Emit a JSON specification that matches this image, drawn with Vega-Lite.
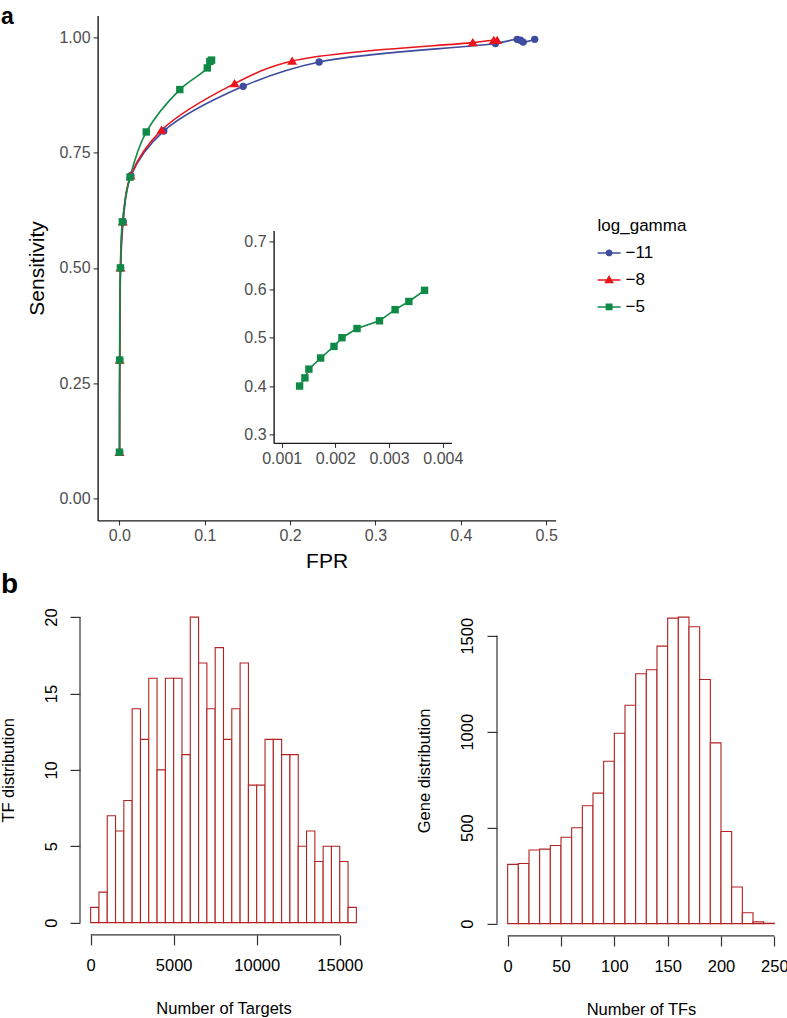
{
  "$schema": "https://vega.github.io/schema/vega-lite/v6.json",
  "padding": {"left": -1, "top": 6.4, "right": 0, "bottom": 0},
  "config": {
    "font": "Liberation Sans",
    "view": {"stroke": null},
    "axis": {"grid": false, "labelFlush": false, "labelOverlap": false}
  },
  "datasets": {
    "roc": [
      {"log_gamma": "−11", "fpr": 0.0003, "sens": 0.1},
      {"log_gamma": "−11", "fpr": 0.0005, "sens": 0.3},
      {"log_gamma": "−11", "fpr": 0.0015, "sens": 0.5},
      {"log_gamma": "−11", "fpr": 0.0045, "sens": 0.6},
      {"log_gamma": "−11", "fpr": 0.0135, "sens": 0.7},
      {"log_gamma": "−11", "fpr": 0.052, "sens": 0.797},
      {"log_gamma": "−11", "fpr": 0.145, "sens": 0.894},
      {"log_gamma": "−11", "fpr": 0.234, "sens": 0.947},
      {"log_gamma": "−11", "fpr": 0.4405, "sens": 0.987},
      {"log_gamma": "−11", "fpr": 0.466, "sens": 0.996},
      {"log_gamma": "−11", "fpr": 0.4698, "sens": 0.994},
      {"log_gamma": "−11", "fpr": 0.473, "sens": 0.99},
      {"log_gamma": "−11", "fpr": 0.4865, "sens": 0.996},
      {"log_gamma": "−8", "fpr": 0.0002, "sens": 0.1},
      {"log_gamma": "−8", "fpr": 0.0004, "sens": 0.3},
      {"log_gamma": "−8", "fpr": 0.0013, "sens": 0.5},
      {"log_gamma": "−8", "fpr": 0.004, "sens": 0.6},
      {"log_gamma": "−8", "fpr": 0.0131, "sens": 0.7},
      {"log_gamma": "−8", "fpr": 0.0494, "sens": 0.799},
      {"log_gamma": "−8", "fpr": 0.135, "sens": 0.9},
      {"log_gamma": "−8", "fpr": 0.2024, "sens": 0.949},
      {"log_gamma": "−8", "fpr": 0.414, "sens": 0.989},
      {"log_gamma": "−8", "fpr": 0.4386, "sens": 0.994},
      {"log_gamma": "−8", "fpr": 0.4425, "sens": 0.994},
      {"log_gamma": "−5", "fpr": 0.0001, "sens": 0.1},
      {"log_gamma": "−5", "fpr": 0.0003, "sens": 0.3},
      {"log_gamma": "−5", "fpr": 0.0012, "sens": 0.5},
      {"log_gamma": "−5", "fpr": 0.0035, "sens": 0.6},
      {"log_gamma": "−5", "fpr": 0.0125, "sens": 0.697},
      {"log_gamma": "−5", "fpr": 0.0315, "sens": 0.795},
      {"log_gamma": "−5", "fpr": 0.0708, "sens": 0.887},
      {"log_gamma": "−5", "fpr": 0.103, "sens": 0.934},
      {"log_gamma": "−5", "fpr": 0.106, "sens": 0.948},
      {"log_gamma": "−5", "fpr": 0.108, "sens": 0.951}
    ],
    "inset": [
      {"fpr": 0.001334, "sens": 0.4},
      {"fpr": 0.001433, "sens": 0.417},
      {"fpr": 0.001507, "sens": 0.435},
      {"fpr": 0.001726, "sens": 0.458},
      {"fpr": 0.001974, "sens": 0.482},
      {"fpr": 0.002123, "sens": 0.5},
      {"fpr": 0.002403, "sens": 0.519},
      {"fpr": 0.002821, "sens": 0.535},
      {"fpr": 0.003112, "sens": 0.558},
      {"fpr": 0.003368, "sens": 0.575},
      {"fpr": 0.00366, "sens": 0.598}
    ],
    "targets": [
      {"bin_start": 0, "bin_end": 500, "count": 1},
      {"bin_start": 500, "bin_end": 1000, "count": 2},
      {"bin_start": 1000, "bin_end": 1500, "count": 7},
      {"bin_start": 1500, "bin_end": 2000, "count": 6},
      {"bin_start": 2000, "bin_end": 2500, "count": 8},
      {"bin_start": 2500, "bin_end": 3000, "count": 14},
      {"bin_start": 3000, "bin_end": 3500, "count": 12},
      {"bin_start": 3500, "bin_end": 4000, "count": 16},
      {"bin_start": 4000, "bin_end": 4500, "count": 10},
      {"bin_start": 4500, "bin_end": 5000, "count": 16},
      {"bin_start": 5000, "bin_end": 5500, "count": 16},
      {"bin_start": 5500, "bin_end": 6000, "count": 11},
      {"bin_start": 6000, "bin_end": 6500, "count": 20},
      {"bin_start": 6500, "bin_end": 7000, "count": 17},
      {"bin_start": 7000, "bin_end": 7500, "count": 14},
      {"bin_start": 7500, "bin_end": 8000, "count": 18},
      {"bin_start": 8000, "bin_end": 8500, "count": 12},
      {"bin_start": 8500, "bin_end": 9000, "count": 14},
      {"bin_start": 9000, "bin_end": 9500, "count": 17},
      {"bin_start": 9500, "bin_end": 10000, "count": 9},
      {"bin_start": 10000, "bin_end": 10500, "count": 9},
      {"bin_start": 10500, "bin_end": 11000, "count": 12},
      {"bin_start": 11000, "bin_end": 11500, "count": 12},
      {"bin_start": 11500, "bin_end": 12000, "count": 11},
      {"bin_start": 12000, "bin_end": 12500, "count": 11},
      {"bin_start": 12500, "bin_end": 13000, "count": 5},
      {"bin_start": 13000, "bin_end": 13500, "count": 6},
      {"bin_start": 13500, "bin_end": 14000, "count": 4},
      {"bin_start": 14000, "bin_end": 14500, "count": 5},
      {"bin_start": 14500, "bin_end": 15000, "count": 5},
      {"bin_start": 15000, "bin_end": 15500, "count": 4},
      {"bin_start": 15500, "bin_end": 16000, "count": 1}
    ],
    "tfs": [
      {"bin_start": 0, "bin_end": 10, "count": 309},
      {"bin_start": 10, "bin_end": 20, "count": 313},
      {"bin_start": 20, "bin_end": 30, "count": 384},
      {"bin_start": 30, "bin_end": 40, "count": 388},
      {"bin_start": 40, "bin_end": 50, "count": 407},
      {"bin_start": 50, "bin_end": 60, "count": 450},
      {"bin_start": 60, "bin_end": 70, "count": 500},
      {"bin_start": 70, "bin_end": 80, "count": 614},
      {"bin_start": 80, "bin_end": 90, "count": 680},
      {"bin_start": 90, "bin_end": 100, "count": 846},
      {"bin_start": 100, "bin_end": 110, "count": 992},
      {"bin_start": 110, "bin_end": 120, "count": 1138},
      {"bin_start": 120, "bin_end": 130, "count": 1302},
      {"bin_start": 130, "bin_end": 140, "count": 1323},
      {"bin_start": 140, "bin_end": 150, "count": 1446},
      {"bin_start": 150, "bin_end": 160, "count": 1592},
      {"bin_start": 160, "bin_end": 170, "count": 1597},
      {"bin_start": 170, "bin_end": 180, "count": 1547},
      {"bin_start": 180, "bin_end": 190, "count": 1272},
      {"bin_start": 190, "bin_end": 200, "count": 942},
      {"bin_start": 200, "bin_end": 210, "count": 480},
      {"bin_start": 210, "bin_end": 220, "count": 191},
      {"bin_start": 220, "bin_end": 230, "count": 57},
      {"bin_start": 230, "bin_end": 240, "count": 9},
      {"bin_start": 240, "bin_end": 250, "count": 2}
    ]
  },
  "vconcat": [
    {
      "title": {"text": "a", "anchor": "start", "frame": "group", "fontSize": 23, "fontWeight": "bold", "color": "black", "font": "Liberation Sans", "dx": -79, "offset": -32, "baseline": "alphabetic"},
      "width": 476,
      "height": 505,
      "layer": [
        {
          "layer": [
            {
              "data": {"name": "roc"},
              "mark": {"type": "line", "interpolate": "catmull-rom", "strokeWidth": 1.6},
              "encoding": {
                "x": {"field": "fpr", "type": "quantitative",
                  "scale": {"domain": [-0.0255, 0.511], "range": [17.6, 475.6], "nice": false, "zero": false},
                  "axis": {"orient": "bottom", "values": [0, 0.1, 0.2, 0.3, 0.4, 0.5], "format": ".1f", "title": "FPR",
                    "domainColor": "#1a1a1a", "domainWidth": 1.4, "tickColor": "#333333", "tickSize": 4.5, "tickWidth": 1.1,
                    "labelColor": "#4d4d4d", "labelFontSize": 16, "labelPadding": 3,
                    "titleFontSize": 21, "titleFontWeight": "normal", "titleColor": "black", "titlePadding": 7}},
                "y": {"field": "sens", "type": "quantitative",
                  "scale": {"domain": [-0.048, 1.048], "nice": false, "zero": false},
                  "axis": {"orient": "left", "offset": -17.6, "values": [0, 0.25, 0.5, 0.75, 1], "format": ".2f", "title": "Sensitivity",
                    "domainColor": "#1a1a1a", "domainWidth": 1.4, "tickColor": "#333333", "tickSize": 4.5, "tickWidth": 1.1,
                    "labelColor": "#4d4d4d", "labelFontSize": 16, "labelPadding": 3,
                    "titleFontSize": 21, "titleFontWeight": "normal", "titleColor": "black", "titlePadding": 11}},
                "color": {"field": "log_gamma", "type": "nominal",
                  "scale": {"domain": ["−11", "−8", "−5"], "range": ["#3d4c9e", "#e8161c", "#0f8a46"]}, "legend": null}
              }
            },
            {
              "data": {"name": "roc"},
              "mark": {"type": "point", "filled": true, "size": 55, "opacity": 1},
              "encoding": {
                "x": {"field": "fpr", "type": "quantitative"},
                "y": {"field": "sens", "type": "quantitative"},
                "shape": {"field": "log_gamma", "type": "nominal",
                  "scale": {"domain": ["−11", "−8", "−5"], "range": ["circle", "M0,-1.25L1.35,1L-1.35,1Z", "square"]}, "legend": null},
                "color": {"field": "log_gamma", "type": "nominal",
                  "scale": {"domain": ["−11", "−8", "−5"], "range": ["#3d4c9e", "#e8161c", "#0f8a46"]}, "legend": null}
              }
            },
            {
              "data": {"name": "roc"},
              "transform": [{"filter": "datum.fpr > 1"}],
              "mark": {"type": "point", "filled": true, "opacity": 1},
              "encoding": {
                "x": {"field": "fpr", "type": "quantitative"},
                "y": {"field": "sens", "type": "quantitative"},
                "shape": {"field": "log_gamma", "type": "nominal",
                  "scale": {"domain": ["−11", "−8", "−5"], "range": [
                    "M-1,-0.065H1V0.065H-1Z M0.3,0A0.3,0.3,0,1,1,-0.3,0A0.3,0.3,0,1,1,0.3,0Z",
                    "M-1,-0.065H1V0.065H-1Z M0,-0.42L0.42,0.3L-0.42,0.3Z",
                    "M-1,-0.065H1V0.065H-1Z M-0.3,-0.3H0.3V0.3H-0.3Z"]},
                  "legend": {
                    "orient": "none", "legendX": 517.6, "legendY": 203,
                    "title": "log_gamma", "titleFontSize": 17, "titleFontWeight": "normal", "titleColor": "black", "titlePadding": 6,
                    "titleAnchor": "start", "titleAlign": "left",
                    "labelFontSize": 17, "labelColor": "black", "labelOffset": 5,
                    "symbolSize": 529, "symbolStrokeWidth": 0, "rowPadding": 7, "padding": 0}},
                "color": {"field": "log_gamma", "type": "nominal",
                  "scale": {"domain": ["−11", "−8", "−5"], "range": ["#3d4c9e", "#e8161c", "#0f8a46"]},
                  "legend": {
                    "orient": "none", "legendX": 517.6, "legendY": 203,
                    "title": "log_gamma", "titleFontSize": 17, "titleFontWeight": "normal", "titleColor": "black", "titlePadding": 6,
                    "titleAnchor": "start", "titleAlign": "left",
                    "labelFontSize": 17, "labelColor": "black", "labelOffset": 5,
                    "symbolSize": 529, "symbolStrokeWidth": 0, "rowPadding": 7, "padding": 0}}
              }
            }
          ],
          "resolve": {"scale": {"color": "independent", "shape": "independent"}}
        },
        {
          "data": {"name": "inset"},
          "layer": [
            {
              "mark": {"type": "line", "color": "#0f8a46", "strokeWidth": 1.6},
              "encoding": {
                "x": {"field": "fpr", "type": "quantitative",
                  "scale": {"domain": [0.00085, 0.00416], "range": [193.6, 371.4], "nice": false, "zero": false},
                  "axis": {"orient": "bottom", "offset": -77.5, "values": [0.001, 0.002, 0.003, 0.004], "format": ".3f", "title": null,
                    "domainColor": "#1a1a1a", "domainWidth": 1.4, "tickColor": "#333333", "tickSize": 4.5, "tickWidth": 1.1,
                    "labelColor": "#4d4d4d", "labelFontSize": 16, "labelPadding": 3}},
                "y": {"field": "sens", "type": "quantitative",
                  "scale": {"domain": [0.2824, 0.722], "range": [427.5, 215], "nice": false, "zero": false},
                  "axis": {"orient": "left", "offset": -193.6, "values": [0.3, 0.4, 0.5, 0.6, 0.7], "format": ".1f", "title": null,
                    "domainColor": "#1a1a1a", "domainWidth": 1.4, "tickColor": "#333333", "tickSize": 4.5, "tickWidth": 1.1,
                    "labelColor": "#4d4d4d", "labelFontSize": 16, "labelPadding": 3}}
              }
            },
            {
              "mark": {"type": "point", "shape": "square", "filled": true, "size": 55, "color": "#0f8a46", "opacity": 1},
              "encoding": {
                "x": {"field": "fpr", "type": "quantitative"},
                "y": {"field": "sens", "type": "quantitative"}
              }
            }
          ]
        }
      ],
      "resolve": {"scale": {"x": "independent", "y": "independent"}}
    },
    {
      "title": {"text": "b", "anchor": "start", "frame": "group", "fontSize": 28, "fontWeight": "bold", "color": "black", "font": "Liberation Sans", "dx": -79, "offset": -16, "baseline": "alphabetic"},
      "hconcat": [
        {
          "width": 287,
          "height": 330,
          "layer": [
            {
              "data": {"name": "targets"},
              "mark": {"type": "rect", "fill": "white", "stroke": "#b22222", "strokeWidth": 1.1},
              "encoding": {
                "x": {"field": "bin_start", "type": "quantitative",
                  "scale": {"domain": [-640, 16640], "nice": false, "zero": false},
                  "axis": {"orient": "bottom", "domain": false, "values": [0, 5000, 10000, 15000], "format": "d", "title": "Number of Targets",
                    "tickColor": "#333333", "tickSize": 10, "tickWidth": 1.2, "labelColor": "black", "labelFontSize": 16.5, "labelPadding": 13,
                    "titleFontSize": 16.5, "titleFontWeight": "normal", "titleColor": "black", "titlePadding": 26}},
                "x2": {"field": "bin_end"},
                "y": {"field": "count", "type": "quantitative",
                  "scale": {"domain": [-0.8, 20.8], "nice": false, "zero": false},
                  "axis": {"orient": "left", "domain": false, "values": [0, 5, 10, 15, 20], "format": "d", "title": "TF distribution",
                    "tickColor": "#333333", "tickSize": 10, "tickWidth": 1.2, "labelColor": "black", "labelFontSize": 16.5, "labelPadding": 11,
                    "labelAngle": -90, "labelAlign": "center", "labelBaseline": "bottom",
                    "titleFontSize": 16.5, "titleFontWeight": "normal", "titleColor": "black", "titlePadding": 27}},
                "y2": {"datum": 0}
              }
            },
            {
              "data": {"values": [{"from": 0, "to": 15000, "level": -0.8}]},
              "mark": {"type": "rule", "color": "#333333", "strokeWidth": 1.2},
              "encoding": {
                "x": {"field": "from", "type": "quantitative"},
                "x2": {"field": "to"},
                "y": {"field": "level", "type": "quantitative"}
              }
            },
            {
              "data": {"values": [{"from": 0, "to": 20, "level": -640}]},
              "mark": {"type": "rule", "color": "#333333", "strokeWidth": 1.2},
              "encoding": {
                "y": {"field": "from", "type": "quantitative"},
                "y2": {"field": "to"},
                "x": {"field": "level", "type": "quantitative"}
              }
            }
          ]
        },
        {
          "width": 288,
          "height": 331,
          "layer": [
            {
              "data": {"name": "tfs"},
              "mark": {"type": "rect", "fill": "white", "stroke": "#b22222", "strokeWidth": 1.1},
              "encoding": {
                "x": {"field": "bin_start", "type": "quantitative",
                  "scale": {"domain": [-10, 260], "nice": false, "zero": false},
                  "axis": {"orient": "bottom", "domain": false, "values": [0, 50, 100, 150, 200, 250], "format": "d", "title": "Number of TFs",
                    "tickColor": "#333333", "tickSize": 10, "tickWidth": 1.2, "labelColor": "black", "labelFontSize": 16.5, "labelPadding": 13,
                    "titleFontSize": 16.5, "titleFontWeight": "normal", "titleColor": "black", "titlePadding": 26}},
                "x2": {"field": "bin_end"},
                "y": {"field": "count", "type": "quantitative",
                  "scale": {"domain": [-63.9, 1660.9], "nice": false, "zero": false},
                  "axis": {"orient": "left", "domain": false, "values": [0, 500, 1000, 1500], "format": "d", "title": "Gene distribution",
                    "tickColor": "#333333", "tickSize": 10, "tickWidth": 1.2, "labelColor": "black", "labelFontSize": 16.5, "labelPadding": 11,
                    "labelAngle": -90, "labelAlign": "center", "labelBaseline": "bottom",
                    "titleFontSize": 16.5, "titleFontWeight": "normal", "titleColor": "black", "titlePadding": 27}},
                "y2": {"datum": 0}
              }
            },
            {
              "data": {"values": [{"from": 0, "to": 250, "level": -63.9}]},
              "mark": {"type": "rule", "color": "#333333", "strokeWidth": 1.2},
              "encoding": {
                "x": {"field": "from", "type": "quantitative"},
                "x2": {"field": "to"},
                "y": {"field": "level", "type": "quantitative"}
              }
            },
            {
              "data": {"values": [{"from": 0, "to": 1500, "level": -10}]},
              "mark": {"type": "rule", "color": "#333333", "strokeWidth": 1.2},
              "encoding": {
                "y": {"field": "from", "type": "quantitative"},
                "y2": {"field": "to"},
                "x": {"field": "level", "type": "quantitative"}
              }
            }
          ]
        }
      ],
      "spacing": 130,
      "bounds": "flush"
    }
  ],
  "spacing": 84.5,
  "bounds": "flush"
}
